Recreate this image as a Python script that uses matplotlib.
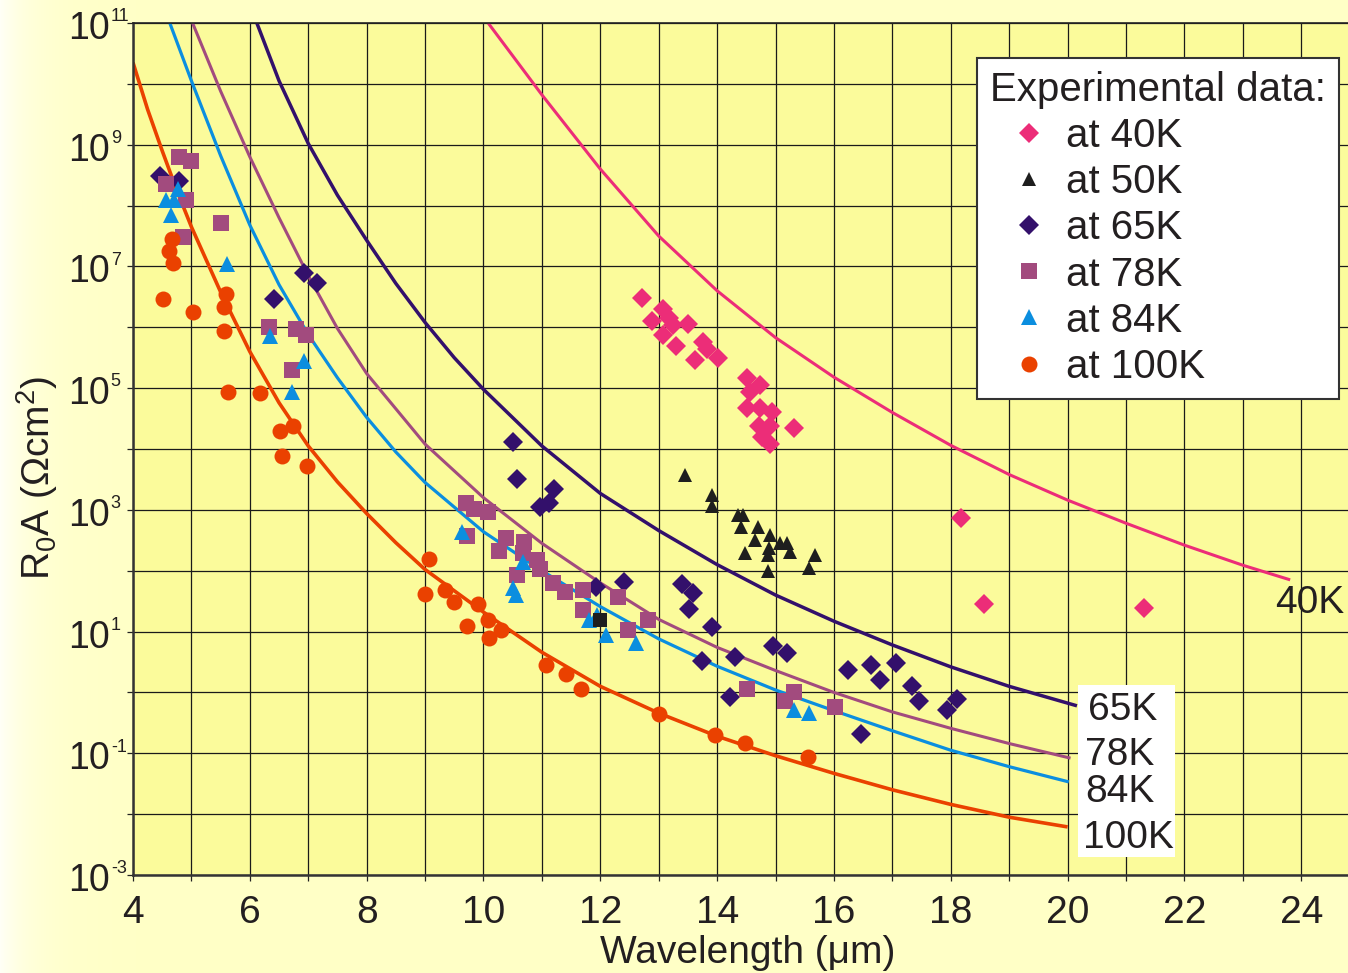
import numpy as np
import matplotlib.pyplot as plt
import matplotlib.transforms as mtransforms
from matplotlib.patches import Rectangle
from matplotlib.ticker import FixedLocator, NullFormatter

plt.rcParams['font.family'] = ['Liberation Sans', 'DejaVu Sans']
plt.rcParams['mathtext.fontset'] = 'custom'
plt.rcParams['mathtext.rm'] = 'Liberation Sans'
plt.rcParams['mathtext.it'] = 'Liberation Sans'
plt.rcParams['mathtext.default'] = 'regular'

TXT = '#231F20'

# ---------------- measured R0A (wavelength in um, log10 of R0A in Ohm cm^2) ----------------
wl_40K = [12.72, 12.88, 13.08, 13.18, 13.24, 13.08, 13.50, 13.29, 13.75, 13.82, 14.01, 13.62, 14.51,
          14.74, 14.57, 14.51, 14.74, 14.94, 14.71, 14.91, 14.77, 14.91, 15.32, 18.18, 18.57, 21.30]
lg_40K = [6.48, 6.10, 6.30, 6.15, 6.04, 5.87, 6.05, 5.69, 5.76, 5.64, 5.49, 5.46, 5.16,
          5.05, 4.94, 4.67, 4.67, 4.61, 4.37, 4.38, 4.20, 4.09, 4.35, 2.87, 1.45, 1.38]

wl_50K = [13.45, 13.92, 13.92, 14.35, 14.45, 14.41, 14.70, 14.65, 14.91, 14.88, 14.48, 14.87,
          15.08, 15.20, 15.24, 14.87, 15.68, 15.58]
lg_50K = [3.57, 3.24, 3.06, 2.92, 2.92, 2.72, 2.72, 2.51, 2.59, 2.37, 2.29, 2.26,
          2.45, 2.46, 2.31, 1.99, 2.26, 2.04]

wl_65K = [4.46, 4.79, 6.41, 6.93, 7.15, 10.50, 10.57, 11.20, 11.12, 10.96, 11.92, 12.41, 13.40,
          13.59, 13.52, 13.92, 13.74, 14.31, 14.22, 14.95, 15.20, 16.24, 16.64, 16.79, 17.06,
          17.33, 17.45, 18.10, 17.94, 16.47]
lg_65K = [8.49, 8.41, 6.46, 6.90, 6.72, 4.11, 3.51, 3.35, 3.11, 3.04, 1.74, 1.82, 1.78,
          1.63, 1.37, 1.08, 0.51, 0.59, -0.07, 0.76, 0.64, 0.37, 0.45, 0.20, 0.49,
          0.11, -0.14, -0.10, -0.29, -0.68]

wl_78K = [4.78, 5.00, 4.56, 4.91, 5.51, 4.86, 6.33, 6.79, 6.97, 6.72, 9.70, 9.84, 10.08, 9.72,
          10.39, 10.27, 10.70, 10.68, 10.91, 10.97, 10.57, 11.19, 11.39, 11.71, 11.71, 12.31,
          12.48, 12.81, 14.51, 15.16, 15.32, 16.01]
lg_78K = [8.79, 8.73, 8.35, 8.09, 7.72, 7.48, 6.00, 5.97, 5.88, 5.30, 3.11, 3.01, 2.97, 2.57,
          2.53, 2.33, 2.48, 2.29, 2.18, 2.02, 1.93, 1.80, 1.65, 1.68, 1.35, 1.56,
          1.03, 1.19, 0.05, -0.14, 0.01, -0.24]

wl_84K = [4.77, 4.57, 4.71, 4.65, 5.61, 6.35, 6.92, 6.72, 9.63, 10.68, 10.50, 10.56, 11.80,
          11.94, 12.09, 12.61, 15.31, 15.58]
lg_84K = [8.28, 8.09, 8.09, 7.85, 7.04, 5.85, 5.45, 4.94, 2.64, 2.15, 1.71, 1.60, 1.19,
          1.27, 0.94, 0.81, -0.29, -0.34]

wl_100K = [4.67, 4.62, 4.69, 4.52, 5.02, 5.60, 5.56, 5.56, 5.63, 6.17, 6.52, 6.74, 6.55, 6.98,
           9.07, 9.00, 9.34, 9.50, 9.90, 9.71, 10.07, 10.30, 10.10, 11.07, 11.41, 11.67,
           13.00, 13.97, 14.47, 15.56]
lg_100K = [7.45, 7.25, 7.06, 6.46, 6.25, 6.55, 6.33, 5.94, 4.94, 4.92, 4.30, 4.37, 3.89, 3.72,
           2.19, 1.62, 1.69, 1.49, 1.45, 1.09, 1.19, 1.03, 0.89, 0.45, 0.31, 0.05,
           -0.36, -0.70, -0.83, -1.06]

wl_odd = [12.0]
lg_odd = [1.19]

# ---------------- calculated R0A curves ----------------
cv_wl_40K = [10.08, 11.0, 12.0, 13.0, 14.0, 15.0, 16.0, 17.0, 18.0, 19.0, 20.0, 21.0, 22.0,
             23.0, 23.81]
cv_lg_40K = [11.0, 9.82, 8.6, 7.5, 6.6, 5.83, 5.18, 4.6, 4.06, 3.58, 3.16, 2.78, 2.42,
             2.09, 1.85]

cv_wl_65K = [6.12, 6.5, 7.0, 7.5, 8.0, 8.5, 9.0, 9.5, 10.0, 11.0, 12.0, 13.0, 14.0, 15.0,
             16.0, 17.0, 18.0, 19.0, 20.16]
cv_lg_65K = [11.0, 10.05, 9.02, 8.17, 7.43, 6.72, 6.08, 5.5, 4.98, 4.05, 3.27, 2.66, 2.1, 1.6,
             1.17, 0.78, 0.42, 0.1, -0.22]

cv_wl_78K = [5.02, 5.5, 6.0, 6.5, 7.0, 7.5, 8.0, 9.0, 10.0, 11.0, 12.0, 13.0, 14.0, 15.0,
             16.0, 17.0, 18.0, 19.0, 20.05]
cv_lg_78K = [11.0, 9.88, 8.8, 7.8, 6.85, 5.98, 5.24, 4.08, 3.2, 2.45, 1.8, 1.2, 0.74, 0.36,
             0.0, -0.32, -0.59, -0.84, -1.08]

cv_wl_84K = [4.63, 5.0, 5.5, 6.0, 6.5, 7.0, 7.5, 8.0, 8.5, 9.0, 10.0, 11.0, 12.0, 13.0, 14.0,
             15.0, 16.0, 17.0, 18.0, 19.0, 20.02]
cv_lg_84K = [11.0, 10.05, 8.82, 7.68, 6.7, 5.88, 5.17, 4.52, 3.95, 3.45, 2.64, 2.0, 1.41, 0.88,
             0.43, 0.04, -0.3, -0.63, -0.95, -1.22, -1.47]

cv_wl_100K = [4.0, 4.25, 4.5, 4.75, 5.0, 5.5, 6.0, 6.5, 7.0, 7.5, 8.0, 8.5, 9.0, 10.0, 11.0,
              12.0, 13.0, 14.0, 15.0, 16.0, 17.0, 18.0, 19.0, 20.0]
cv_lg_100K = [10.35, 9.58, 8.9, 8.25, 7.65, 6.58, 5.6, 4.76, 4.05, 3.46, 2.94, 2.46, 2.02, 1.32,
              0.66, 0.1, -0.34, -0.72, -1.04, -1.33, -1.6, -1.84, -2.05, -2.21]

C40, C50, C65, C78, C84, C100 = '#EC2D78', '#1E1E1E', '#33106B', '#A24B7E', '#0B8EDF', '#EA4100'

fig = plt.figure(figsize=(13.48, 9.73), dpi=100)
fig.patch.set_facecolor('#FFFFC8')

# pale left-to-right wash behind everything
bg = fig.add_axes([0, 0, 1, 1], zorder=-10)
bg.axis('off')
cols = np.arange(1348)
wash = np.ones((1, 1348, 3))
wash[..., 2] = (198 + 48 * np.exp(-cols / 35.0)) / 255.0
bg.imshow(wash, aspect='auto', extent=(0, 1, 0, 1))

ax = fig.add_axes([133 / 1348, 98 / 973, 1215 / 1348, 852 / 973])
ax.set_facecolor('#FBFB9B')
ax.set_yscale('log')
ax.set_xlim(4, 24.8)
ax.set_ylim(1e-3, 1e11)

# model curves
for wl, lg, c, lw in [(cv_wl_40K, cv_lg_40K, C40, 2.2), (cv_wl_65K, cv_lg_65K, C65, 2.5),
                      (cv_wl_78K, cv_lg_78K, C78, 2.2), (cv_wl_84K, cv_lg_84K, C84, 2.3),
                      (cv_wl_100K, cv_lg_100K, C100, 2.6)]:
    ax.plot(wl, np.power(10.0, lg), color=c, lw=lw, zorder=2,
            solid_capstyle='butt', solid_joinstyle='round')

# experimental points
h40, = ax.plot(wl_40K, np.power(10.0, lg_40K), ls='none', marker='D', ms=10.0, color=C40, mew=0, zorder=3)
h50, = ax.plot(wl_50K, np.power(10.0, lg_50K), ls='none', marker='^', ms=10.5, color=C50, mew=0, zorder=3)
h65, = ax.plot(wl_65K, np.power(10.0, lg_65K), ls='none', marker='D', ms=10.5, color=C65, mew=0, zorder=3)
h78, = ax.plot(wl_78K, np.power(10.0, lg_78K), ls='none', marker='s', ms=11.0, color=C78, mew=0, zorder=3)
h84, = ax.plot(wl_84K, np.power(10.0, lg_84K), ls='none', marker='^', ms=12.0, color=C84, mew=0, zorder=3)
h100, = ax.plot(wl_100K, np.power(10.0, lg_100K), ls='none', marker='o', ms=11.5, color=C100, mew=0, zorder=3)
ax.plot(wl_odd, np.power(10.0, lg_odd), ls='none', marker='s', ms=10.0, color=C50, mew=0, zorder=3)

# grid and ticks
ax.xaxis.set_major_locator(FixedLocator(np.arange(4, 25, 2)))
ax.xaxis.set_minor_locator(FixedLocator(np.arange(5, 24, 2)))
y_exp = np.arange(-3, 12, 2)
ax.yaxis.set_major_locator(FixedLocator(10.0 ** y_exp))
ax.yaxis.set_minor_locator(FixedLocator(10.0 ** np.arange(-2, 11, 2)))
ax.yaxis.set_major_formatter(NullFormatter())
ax.yaxis.set_minor_formatter(NullFormatter())
ax.grid(which='both', color='#1A1A1A', lw=0.9)
ax.set_axisbelow(True)
ax.tick_params(which='both', direction='out', length=4, width=0.9, color='#222222')
ax.tick_params(axis='x', labelsize=28, labelcolor=TXT, pad=10.5)

for s in ['left', 'bottom']:
    ax.spines[s].set_linewidth(1.8)
    ax.spines[s].set_color('#333333')
ax.spines['top'].set_linewidth(1.2)
ax.spines['top'].set_color('#222222')
ax.spines['right'].set_visible(False)

# y tick labels as 10 with a small raised exponent
ytrans = ax.get_yaxis_transform()
base_tr = mtransforms.offset_copy(ytrans, fig=fig, x=-16.6, y=-4.3, units='points')
exp_tr = mtransforms.offset_copy(ytrans, fig=fig, x=-16.0, y=4.5, units='points')
for e in y_exp:
    ax.text(0, 10.0 ** e, '10', transform=base_tr, ha='right', va='center', fontsize=27, color=TXT)
    ax.text(0, 10.0 ** e, str(e), transform=exp_tr, ha='left', va='center', fontsize=13, color=TXT)

ax.set_xlabel('Wavelength (μm)', fontsize=28, color=TXT)
ax.xaxis.set_label_coords((748 - 133) / 1215, -(935 - 875) / 852)
ax.set_ylabel('R$_0$A (Ωcm$^2$)', fontsize=28, color=TXT)
ax.yaxis.set_label_coords((60 - 133) / 1215, (875 - 478) / 852)

# curve temperature labels
ax.add_patch(Rectangle(((1078 - 133) / 1215, (875 - 857) / 852), 97 / 1215, 172 / 852,
                       transform=ax.transAxes, facecolor='white', edgecolor='none', zorder=5))
for txt, px, py in [('65K', 1123, 710), ('78K', 1120, 755), ('84K', 1120, 792),
                    ('100K', 1128, 838), ('40K', 1310, 603)]:
    ax.text((px - 133) / 1215, (875 - py) / 852, txt, transform=ax.transAxes, ha='center',
            va='center', fontsize=28, color=TXT, zorder=6)

leg = ax.legend([h40, h50, h65, h78, h84, h100],
                ['at 40K', 'at 50K', 'at 65K', 'at 78K', 'at 84K', 'at 100K'],
                loc='upper left', bbox_to_anchor=(976.7 / 1348, 1 - 58 / 973),
                bbox_transform=fig.transFigure, borderaxespad=0,
                title='Experimental data:', title_fontsize=29, fontsize=29,
                alignment='left', borderpad=0.33, handlelength=1.92, handletextpad=-0.043,
                labelspacing=0.2, numpoints=1, frameon=True, fancybox=False,
                edgecolor='#333333', framealpha=1)
leg.get_frame().set_linewidth(1.5)
for t in leg.get_texts():
    t.set_color(TXT)
leg.get_title().set_color(TXT)
leg.set_zorder(7)

fig.savefig('out.png', dpi=100, facecolor=fig.get_facecolor())
